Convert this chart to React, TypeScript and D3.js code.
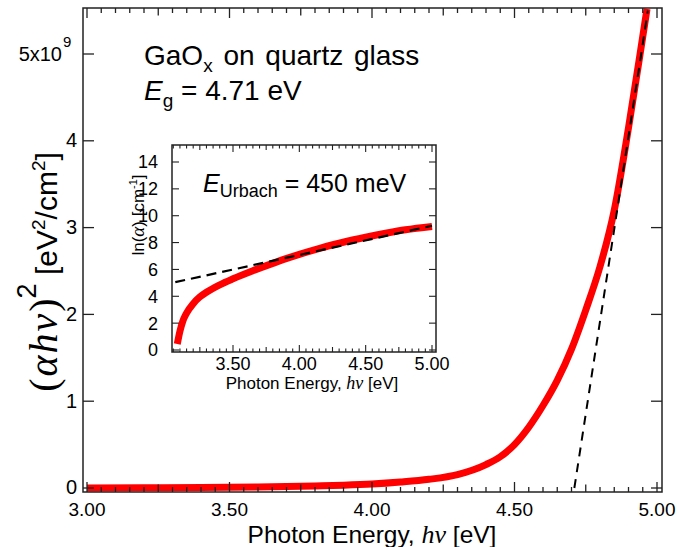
import React from 'react';
import * as d3 from 'd3';

// Main Tauc plot data: photon energy [eV] and (αhν)^2 in units of 1e9 eV^2/cm^2
const mainEnergy = [3.0, 3.2, 3.4, 3.6, 3.7, 3.8, 3.9, 4.0, 4.1, 4.2, 4.3, 4.4, 4.45, 4.5, 4.55, 4.6, 4.65, 4.7, 4.75, 4.8, 4.85, 4.9, 4.95, 4.965];
const mainTauc = [0.0, 0.003, 0.006, 0.012, 0.017, 0.024, 0.032, 0.045, 0.068, 0.1, 0.155, 0.27, 0.36, 0.5, 0.7, 0.95, 1.24, 1.6, 2.05, 2.55, 3.2, 4.15, 5.2, 5.52];
const fitEnergy = [4.71, 4.968];
const fitTauc = [0.0, 5.5];
const mainXTickLabels = ['3.00', '3.50', '4.00', '4.50', '5.00'];
const mainYTickLabels = ['0', '1', '2', '3', '4'];

// Inset Urbach plot data
const insetEnergy = [3.08, 3.1, 3.12, 3.15, 3.2, 3.25, 3.3, 3.4, 3.5, 3.65, 3.8, 3.9, 4.0, 4.16, 4.3, 4.41, 4.5, 4.66, 4.8, 5.0];
const insetLnAlpha = [0.45, 1.4, 2.1, 2.75, 3.45, 3.95, 4.3, 4.85, 5.3, 5.9, 6.45, 6.8, 7.12, 7.59, 7.95, 8.21, 8.4, 8.71, 8.95, 9.2];
const insetFitEnergy = [3.065, 5.0];
const insetFitLn = [5.05, 9.25];
const insetXTickLabels = ['3.50', '4.00', '4.50', '5.00'];
const insetYTickLabels = ['0', '2', '4', '6', '8', '10', '12', '14'];

const SANS = "'Liberation Sans', Arial, Helvetica, sans-serif";
const SERIF = "'Liberation Serif', 'Times New Roman', serif";
const AX = '#222';
const RED = '#ff0000';

export default function App() {
  const W = 679, H = 547;
  // main plot frame
  const L = 83, R = 662, T = 8, B = 492;
  const x = d3.scaleLinear().domain([3.0, 5.0]).range([87, 657]);
  const y = d3.scaleLinear().domain([0, 5]).range([488, 54]);

  // inset frame
  const iL = 172, iR = 436, iT = 145, iB = 352;
  const ix = d3.scaleLinear().domain([3.5, 5.0]).range([233, 432]);
  const iy = d3.scaleLinear().domain([0, 14]).range([350, 162]);

  const mainLine = d3.line<number>().x((_, i) => x(mainEnergy[i])).y((_, i) => y(mainTauc[i])).curve(d3.curveMonotoneX);
  const fitLine = d3.line<number>().x((_, i) => x(fitEnergy[i])).y((_, i) => y(fitTauc[i]));
  const insetLine = d3.line<number>().x((_, i) => ix(insetEnergy[i])).y((_, i) => iy(insetLnAlpha[i])).curve(d3.curveMonotoneX);
  const insetFit = d3.line<number>().x((_, i) => ix(insetFitEnergy[i])).y((_, i) => iy(insetFitLn[i]));

  // main x ticks every 0.05 from 3.00 to 5.00
  const mainXTicks = d3.range(0, 41).map(i => ({ v: 3 + i * 0.05, kind: i % 10 === 0 ? 2 : i % 5 === 0 ? 1 : 0 }));
  const tickLen = [5, 7.5, 10];
  // inset x ticks every 0.05 from 3.05 to 5.00
  const insetXTicks = d3.range(1, 41).map(i => ({ v: 3 + i * 0.05, kind: i % 10 === 0 ? 2 : i % 5 === 0 ? 1 : 0 }));
  const iTickLen = [3.5, 5, 7];

  return (
    <svg width={W} height={H} style={{ position: 'absolute', left: 0, top: 0, background: '#fff' }} fontFamily={SANS}>
      <rect x={0} y={0} width={W} height={H} fill="#fff" />
      <defs>
        <clipPath id="mainClip"><rect x={L} y={T} width={R - L} height={B - T} /></clipPath>
        <clipPath id="insetClip"><rect x={iL} y={iT} width={iR - iL} height={iB - iT} /></clipPath>
      </defs>
      {/* main data */}
      <g clipPath="url(#mainClip)">
        <path d={mainLine(mainEnergy) || ''} fill="none" stroke={RED} strokeWidth={7} strokeLinejoin="round" />
        <path d={fitLine(fitEnergy) || ''} fill="none" stroke="#000" strokeWidth={2} strokeDasharray="9,7" />
      </g>

      {/* main frame */}
      <rect x={L} y={T} width={R - L} height={B - T} fill="none" stroke={AX} strokeWidth={1.5} />
      {mainXTicks.map((t, i) => (
        <g key={'mx' + i} stroke={AX} strokeWidth={1.3}>
          <line x1={x(t.v)} x2={x(t.v)} y1={B} y2={B - tickLen[t.kind]} />
          <line x1={x(t.v)} x2={x(t.v)} y1={T} y2={T + tickLen[t.kind]} />
        </g>
      ))}
      {d3.range(0, 6).map(v => (
        <g key={'my' + v} stroke={AX} strokeWidth={1.3}>
          <line x1={L} x2={L + 11} y1={y(v)} y2={y(v)} />
          <line x1={R} x2={R - 11} y1={y(v)} y2={y(v)} />
        </g>
      ))}
      {mainXTickLabels.map(s => (
        <text key={'mxl' + s} x={x(+s)} y={516} fontSize={19} textAnchor="middle" fill="#000">{s}</text>
      ))}
      {mainYTickLabels.map(s => (
        <text key={'myl' + s} x={77} y={y(+s)} dy="0.32em" fontSize={20} textAnchor="end" fill="#000">{s}</text>
      ))}
      <text x={62} y={y(5)} dy="0.36em" fontSize={20} textAnchor="end" fill="#000">5x10</text>
      <text x={63} y={y(5) - 7} fontSize={15} textAnchor="start" fill="#000">9</text>

      {/* main axis titles */}
      <text x={372} y={542.5} fontSize={24.5} textAnchor="middle" fill="#000">
        Photon Energy, <tspan fontFamily={SERIF} fontStyle="italic" fontSize={26}>hν</tspan> [eV]
      </text>
      <text transform="translate(57,272) rotate(-90)" textAnchor="middle" fill="#000">
        <tspan fontFamily={SERIF} fontSize={40} letterSpacing={2}>(</tspan>
        <tspan fontFamily={SERIF} fontSize={40} fontStyle="italic" letterSpacing={2}>αhν</tspan>
        <tspan fontFamily={SERIF} fontSize={40}>)</tspan>
        <tspan fontSize={27} dy={-21}>2</tspan>
        <tspan fontSize={30} dy={21}>{'\u00A0[eV'}</tspan>
        <tspan fontSize={19} dy={-12}>2</tspan>
        <tspan fontSize={30} dy={12}>/cm</tspan>
        <tspan fontSize={19} dy={-12}>2</tspan>
        <tspan fontSize={30} dy={12}>]</tspan>
      </text>

      {/* annotations */}
      <text x={144} y={65} fontSize={28} wordSpacing={3} fill="#000">
        GaO<tspan fontSize={19} dy={7}>x</tspan><tspan dy={-7}> on quartz glass</tspan>
      </text>
      <text x={144} y={100} fontSize={28} fill="#000">
        <tspan fontStyle="italic">E</tspan><tspan fontSize={19} dy={7}>g</tspan><tspan dy={-7}> = 4.71 eV</tspan>
      </text>

      {/* inset */}
      <rect x={iL} y={iT} width={iR - iL} height={iB - iT} fill="#fff" stroke="none" />
      <g clipPath="url(#insetClip)">
        <path d={insetLine(insetEnergy) || ''} fill="none" stroke={RED} strokeWidth={7} strokeLinecap="butt" strokeLinejoin="round" />
        <path d={insetFit(insetFitEnergy) || ''} fill="none" stroke="#000" strokeWidth={2.2} strokeDasharray="10,6" />
      </g>
      <rect x={iL} y={iT} width={iR - iL} height={iB - iT} fill="none" stroke={AX} strokeWidth={1.5} />
      {insetXTicks.map((t, i) => (
        <g key={'ix' + i} stroke={AX} strokeWidth={1.1}>
          <line x1={ix(t.v)} x2={ix(t.v)} y1={iB} y2={iB - iTickLen[t.kind]} />
          <line x1={ix(t.v)} x2={ix(t.v)} y1={iT} y2={iT + iTickLen[t.kind]} />
        </g>
      ))}
      {d3.range(0, 15, 2).map(v => (
        <g key={'iy' + v} stroke={AX} strokeWidth={1.1}>
          <line x1={iL} x2={iL + 7} y1={iy(v)} y2={iy(v)} />
          <line x1={iR} x2={iR - 7} y1={iy(v)} y2={iy(v)} />
        </g>
      ))}
      {insetXTickLabels.map(s => (
        <text key={'ixl' + s} x={ix(+s)} y={370} fontSize={18} textAnchor="middle" fill="#000">{s}</text>
      ))}
      {insetYTickLabels.map(s => (
        <text key={'iyl' + s} x={158} y={iy(+s)} dy="0.36em" fontSize={18} textAnchor="end" fill="#000">{s}</text>
      ))}
      <text x={312} y={389} fontSize={17} textAnchor="middle" fill="#000">
        Photon Energy, <tspan fontFamily={SERIF} fontStyle="italic" fontSize={18}>hν</tspan> [eV]
      </text>
      <text transform="translate(144,215) rotate(-90)" fontSize={17} textAnchor="middle" fill="#000">
        ln(<tspan fontFamily={SERIF} fontStyle="italic" fontSize={19}>α</tspan>) [cm<tspan fontSize={11} dy={-7}>-1</tspan><tspan dy={7}>]</tspan>
      </text>
      <text x={203} y={192} fontSize={25} fill="#000">
        <tspan fontStyle="italic">E</tspan><tspan fontSize={18} dy={5}>Urbach</tspan><tspan dy={-5}> = 450 meV</tspan>
      </text>
    </svg>
  );
}
